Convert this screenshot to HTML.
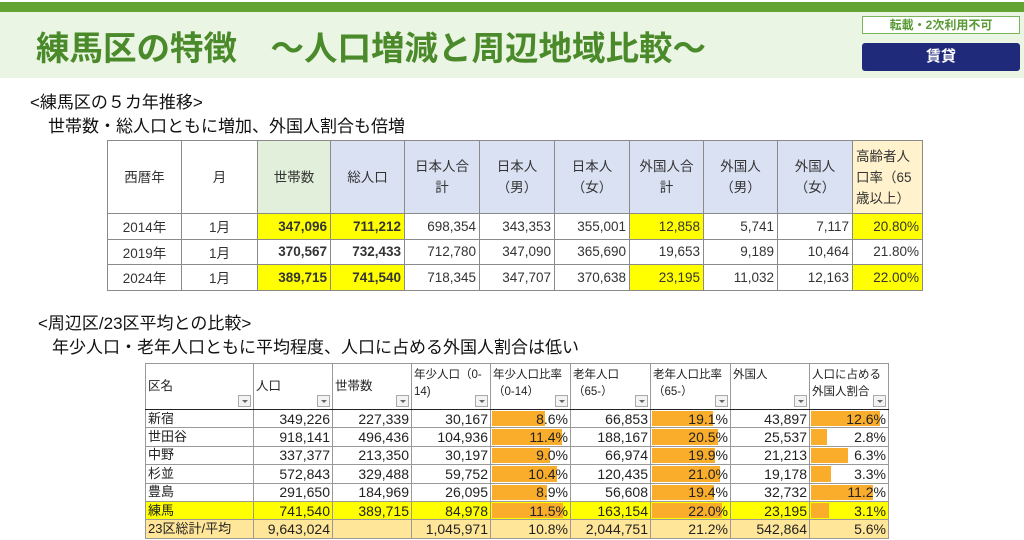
<!DOCTYPE html>
<html><head><meta charset="utf-8"><style>
*{margin:0;padding:0;box-sizing:border-box}
body{width:1024px;height:540px;overflow:hidden;background:#fff;font-family:"Liberation Sans","Noto Sans CJK JP",sans-serif;position:relative}
.a{position:absolute;white-space:nowrap}
table{border-collapse:collapse;position:absolute;table-layout:fixed}
#t1 td{border:1px solid #8a8a8a;font-size:13.5px;color:#333;text-align:center;padding:0 3px}
#t1 tr.h td{height:73px;line-height:21px;vertical-align:middle}
#t1 tr.d td{height:25.5px;text-align:right}
#t1 tr.d td:first-child,#t1 tr.d td:nth-child(2){text-align:center}
.y{background:#ffff00}
.b{font-weight:bold;color:#000}
#t2 td{border:1px solid #999;font-size:14px;line-height:16px;color:#222;padding:0 2px;height:18.4px;text-align:right;position:relative;overflow:hidden}
#t2 tr.h td{height:46px;text-align:left;vertical-align:top;font-size:11.5px;line-height:17px;padding-top:3px;border-bottom:1px solid #222}
#t2 tr.h td:first-child,#t2 tr.h td:nth-child(2),#t2 tr.h td:nth-child(3){vertical-align:middle;padding-top:0;font-size:12.5px}
#t2 td:first-child{text-align:left;font-size:13px}
.dd{position:absolute;right:2px;bottom:2px;width:13px;height:12px;border:1px solid #aaa;background:#f3f3f3}
.dd:after{content:"";position:absolute;left:3px;top:4px;border-left:3px solid transparent;border-right:3px solid transparent;border-top:3px solid #666}
.bar{position:absolute;left:1px;top:1px;bottom:1px;background:#f9ad2b}
.v{position:relative}
.ny td{background:#ffff00}
.avg td{background:#ffe699}
</style></head><body>
<div class="a" style="left:0;top:2px;width:1024px;height:10px;background:#63a331"></div>
<div class="a" style="left:0;top:12px;width:1024px;height:66px;background:#ebf5e3"></div>
<div class="a" style="left:36px;top:21px;font-size:33.5px;font-weight:bold;color:#4a8a2a">練馬区の特徴　～人口増減と周辺地域比較～</div>
<div class="a" style="left:862px;top:16px;width:158px;height:18px;border:1px solid #7ab55c;background:#fff;color:#5a9a36;font-size:12px;font-weight:bold;text-align:center;line-height:16px">転載・2次利用不可</div>
<div class="a" style="left:862px;top:43px;width:158px;height:28px;background:#1f2a7a;border-radius:3px;color:#fff;font-size:15px;font-weight:bold;text-align:center;line-height:28px">賃貸</div>
<div class="a" style="left:30px;top:88px;font-size:17px;color:#111">&lt;練馬区の５カ年推移&gt;</div>
<div class="a" style="left:48px;top:112px;font-size:17px;color:#111">世帯数・総人口ともに増加、外国人割合も倍増</div>

<table id="t1" style="left:107px;top:140px;width:815px">
<colgroup><col style="width:74px"><col style="width:76px"><col style="width:73px"><col style="width:74px"><col style="width:75px"><col style="width:75px"><col style="width:75px"><col style="width:74px"><col style="width:74px"><col style="width:75px"><col style="width:70px"></colgroup>
<tr class="h"><td>西暦年</td><td>月</td><td style="background:#e2efda">世帯数</td><td style="background:#d9e1f2">総人口</td><td style="background:#d9e1f2">日本人合<br>計</td><td style="background:#d9e1f2">日本人<br>（男）</td><td style="background:#d9e1f2">日本人<br>（女）</td><td style="background:#d9e1f2">外国人合<br>計</td><td style="background:#d9e1f2">外国人<br>（男）</td><td style="background:#d9e1f2">外国人<br>（女）</td><td style="background:#fff2cc;text-align:left">高齢者人<br>口率（65<br>歳以上）</td></tr>
<tr class="d"><td>2014年</td><td>1月</td><td class="y b">347,096</td><td class="y b">711,212</td><td>698,354</td><td>343,353</td><td>355,001</td><td class="y">12,858</td><td>5,741</td><td>7,117</td><td class="y">20.80%</td></tr>
<tr class="d"><td>2019年</td><td>1月</td><td class="b">370,567</td><td class="b">732,433</td><td>712,780</td><td>347,090</td><td>365,690</td><td>19,653</td><td>9,189</td><td>10,464</td><td>21.80%</td></tr>
<tr class="d"><td>2024年</td><td>1月</td><td class="y b">389,715</td><td class="y b">741,540</td><td>718,345</td><td>347,707</td><td>370,638</td><td class="y">23,195</td><td>11,032</td><td>12,163</td><td class="y">22.00%</td></tr>
</table>

<div class="a" style="left:38px;top:309px;font-size:17px;color:#111">&lt;周辺区/23区平均との比較&gt;</div>
<div class="a" style="left:52px;top:333px;font-size:17px;color:#111">年少人口・老年人口ともに平均程度、人口に占める外国人割合は低い</div>

<table id="t2" style="left:145px;top:363px;width:743px">
<colgroup><col style="width:108px"><col style="width:79px"><col style="width:79px"><col style="width:79px"><col style="width:80px"><col style="width:80px"><col style="width:80px"><col style="width:79px"><col style="width:79px"></colgroup>
<tr class="h"><td>区名<span class="dd"></span></td><td>人口<span class="dd"></span></td><td>世帯数<span class="dd"></span></td><td>年少人口（0-<br>14)<span class="dd"></span></td><td>年少人口比率<br>（0-14）<span class="dd"></span></td><td>老年人口<br>（65-）<span class="dd"></span></td><td>老年人口比率<br>（65-）<span class="dd"></span></td><td>外国人<span class="dd"></span></td><td>人口に占める<br>外国人割合<span class="dd"></span></td></tr>
<tr><td>新宿</td><td>349,226</td><td>227,339</td><td>30,167</td><td><i class="bar" style="width:67%"></i><span class="v">8.6%</span></td><td>66,853</td><td><i class="bar" style="width:77%"></i><span class="v">19.1%</span></td><td>43,897</td><td><i class="bar" style="width:88%"></i><span class="v">12.6%</span></td></tr>
<tr><td>世田谷</td><td>918,141</td><td>496,436</td><td>104,936</td><td><i class="bar" style="width:89%"></i><span class="v">11.4%</span></td><td>188,167</td><td><i class="bar" style="width:83%"></i><span class="v">20.5%</span></td><td>25,537</td><td><i class="bar" style="width:20%"></i><span class="v">2.8%</span></td></tr>
<tr><td>中野</td><td>337,377</td><td>213,350</td><td>30,197</td><td><i class="bar" style="width:73%"></i><span class="v">9.0%</span></td><td>66,974</td><td><i class="bar" style="width:80%"></i><span class="v">19.9%</span></td><td>21,213</td><td><i class="bar" style="width:48%"></i><span class="v">6.3%</span></td></tr>
<tr><td>杉並</td><td>572,843</td><td>329,488</td><td>59,752</td><td><i class="bar" style="width:82%"></i><span class="v">10.4%</span></td><td>120,435</td><td><i class="bar" style="width:86%"></i><span class="v">21.0%</span></td><td>19,178</td><td><i class="bar" style="width:25%"></i><span class="v">3.3%</span></td></tr>
<tr><td>豊島</td><td>291,650</td><td>184,969</td><td>26,095</td><td><i class="bar" style="width:70%"></i><span class="v">8.9%</span></td><td>56,608</td><td><i class="bar" style="width:78%"></i><span class="v">19.4%</span></td><td>32,732</td><td><i class="bar" style="width:79%"></i><span class="v">11.2%</span></td></tr>
<tr class="ny"><td>練馬</td><td>741,540</td><td>389,715</td><td>84,978</td><td><i class="bar" style="width:90%"></i><span class="v">11.5%</span></td><td>163,154</td><td><i class="bar" style="width:89%"></i><span class="v">22.0%</span></td><td>23,195</td><td><i class="bar" style="width:23%"></i><span class="v">3.1%</span></td></tr>
<tr class="avg"><td>23区総計/平均</td><td>9,643,024</td><td></td><td>1,045,971</td><td>10.8%</td><td>2,044,751</td><td>21.2%</td><td>542,864</td><td>5.6%</td></tr>
</table>
</body></html>
